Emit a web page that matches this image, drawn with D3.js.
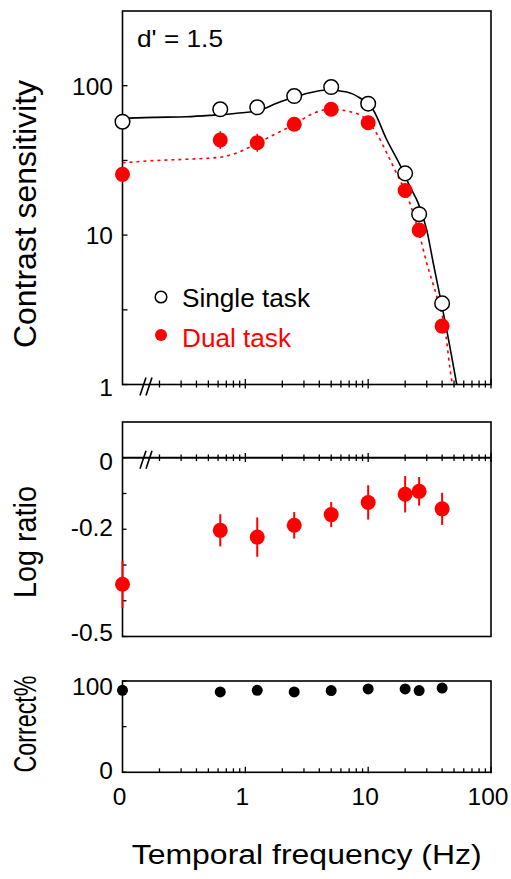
<!DOCTYPE html>
<html>
<head>
<meta charset="utf-8">
<script src="https://cdn.jsdelivr.net/npm/d3@7"></script>
<style>
  body { margin: 0; background: #fff; }
  svg { display: block; font-family: "Liberation Sans", Arial, Helvetica, sans-serif; }
</style>
</head>
<body>
<div id="chart"></div>
<script>
// temporal frequencies (Hz); 0 is drawn at the left edge of the log axis
const freqs = [0, 0.625, 1.25, 2.5, 5, 10, 20, 26, 40];

// contrast sensitivity
const singleCS = [57.4, 69.5, 71.7, 85.3, 98.0, 75.8, 25.9, 13.8, 3.49];
const dualCS = [25.5, 43.3, 41.5, 55.2, 69.5, 56.5, 19.9, 10.8, 2.46];
const dualErr = [0.05, 0.06, 0.06, 0.04, 0.04, 0.04, 0.05, 0.05, 0.05]; // log units

// fitted curves
const singleFitF = [0, 0.178, 0.333, 0.516, 0.851, 1.318, 1.8, 2.46, 3.36, 4.6, 6.7, 8.59, 11.0, 14.2, 18.2, 21.9, 25.6, 30.0, 33.9, 38.5, 43.6, 47.9, 52.6];
const singleFitCS = [60.5, 61.4, 62.0, 63.3, 65.4, 68.7, 76.2, 83.6, 89.8, 93.6, 90.7, 82.7, 68.7, 43.3, 29.4, 21.1, 16.3, 10.8, 6.48, 3.87, 2.32, 1.53, 1.0];
const dualFitF = [0, 0.178, 0.333, 0.622, 0.905, 1.24, 1.8, 2.46, 3.58, 4.89, 7.13, 9.73, 11.7, 14.2, 16.5, 21.9, 26.4, 30.0, 36.2, 42.3, 47.9, 48.8];
const dualFitCS = [30.5, 31.5, 32.2, 33.2, 36.2, 41.1, 48.0, 54.6, 65.4, 69.5, 67.0, 58.9, 48.0, 35.3, 27.3, 16.3, 9.76, 6.48, 3.87, 2.32, 1.07, 1.0];

// log ratio dual / single
const logRatio = [-0.354, -0.203, -0.222, -0.189, -0.159, -0.125, -0.102, -0.094, -0.143];
const ratioErr = [0.066, 0.045, 0.055, 0.037, 0.035, 0.048, 0.051, 0.04, 0.045];

// percent correct in the secondary task
const correctPct = [89.8, 88, 89.8, 88, 89.5, 91.3, 91.3, 89.5, 92.3];

const xLabels = [0, 1, 10, 100];
const csTicks = [1, 10, 100];
const csMinor = [3.16, 31.6];
const ratioTicks = [0, -0.2, -0.5];
const ratioMinor = [-0.1, -0.3, -0.4];
const pctTicks = [0, 100];
const pctMinor = [50];

const width = 511, height = 879;
const left = 122.5, right = 491;
const red = "#ff0000";
const sw = 1.6;

const svg = d3.select("#chart").append("svg")
    .attr("width", width)
    .attr("height", height);

const x = d3.scaleLog().domain([0.1, 100]).range([left, right]);
const fx = f => x(f === 0 ? 0.1 : f);
const xMinor = x.ticks().filter(t => t > 0.1);
const isMajor = t => Math.abs(Math.log10(t) - Math.round(Math.log10(t))) < 1e-6;

const yCS = d3.scaleLog().domain([1, Math.pow(10, 2.5)]).range([384.5, 11]);
const yR = d3.scaleLinear().domain([-0.5, 0.1]).range([636.5, 422]);
const yP = d3.scaleLinear().domain([0, 100]).range([772.3, 681]);

// helpers
const box = (y0, y1) => svg.append("rect")
    .attr("x", left).attr("y", y0)
    .attr("width", right - left).attr("height", y1 - y0)
    .attr("fill", "none").attr("stroke", "#000").attr("stroke-width", sw);

const xTicks = (yy, up, down) => svg.append("g").selectAll("line")
    .data(xMinor)
    .join("line")
    .attr("x1", d => x(d)).attr("x2", d => x(d))
    .attr("y1", d => yy - (isMajor(d) ? up + 1.5 : up))
    .attr("y2", d => yy + (isMajor(d) ? down + 1 : down))
    .attr("stroke", "#000").attr("stroke-width", 1.3);

const yTicks = (vals, scale, len) => svg.append("g").selectAll("line")
    .data(vals)
    .join("line")
    .attr("x1", left).attr("x2", left + len)
    .attr("y1", d => scale(d)).attr("y2", d => scale(d))
    .attr("stroke", "#000").attr("stroke-width", 1.3);

const yLabels = (vals, scale, fmt, shift) => svg.append("g").selectAll("text")
    .data(vals)
    .join("text")
    .attr("x", 113).attr("y", d => scale(d) + (shift ? shift(d) : 0))
    .attr("dy", "0.36em")
    .attr("text-anchor", "end")
    .attr("font-size", 24.5)
    .text(fmt);

const breakMark = (yy) => {
    [143, 149].forEach(bx => svg.append("line")
        .attr("x1", bx - 3).attr("y1", yy + 11)
        .attr("x2", bx + 3).attr("y2", yy - 7)
        .attr("stroke", "#000").attr("stroke-width", 1.6));
};

const yTitle = (txt, cy, len) => svg.append("text")
    .attr("transform", `translate(36,${cy}) rotate(-90)`)
    .attr("text-anchor", "middle")
    .attr("font-size", 32)
    .attr("textLength", len)
    .attr("lengthAdjust", "spacingAndGlyphs")
    .text(txt);

// ---------- top panel: contrast sensitivity ----------
svg.append("clipPath").attr("id", "clipTop")
    .append("rect").attr("x", left).attr("y", 11)
    .attr("width", right - left).attr("height", 384.5 - 11);

box(11, 384.5);
xTicks(384.5, 4, 3);
yTicks(csTicks.concat(csMinor), yCS, 5);
yLabels(csTicks, yCS, d => d, d => d === 1 ? 3 : 0);
breakMark(384.5);

const line = d3.line()
    .x(d => fx(d[0]))
    .y(d => yCS(d[1]))
    .curve(d3.curveMonotoneX);

svg.append("path")
    .datum(dualFitF.map((f, i) => [f, dualFitCS[i]]))
    .attr("clip-path", "url(#clipTop)")
    .attr("d", line)
    .attr("fill", "none")
    .attr("stroke", red)
    .attr("stroke-width", 1.6)
    .attr("stroke-dasharray", "3,4");

svg.append("path")
    .datum(singleFitF.map((f, i) => [f, singleFitCS[i]]))
    .attr("clip-path", "url(#clipTop)")
    .attr("d", line)
    .attr("fill", "none")
    .attr("stroke", "#000")
    .attr("stroke-width", 1.6);

// dual task error bars and dots
svg.append("g").selectAll("line")
    .data(freqs)
    .join("line")
    .attr("x1", d => fx(d)).attr("x2", d => fx(d))
    .attr("y1", (d, i) => yCS(dualCS[i] * Math.pow(10, dualErr[i])))
    .attr("y2", (d, i) => yCS(dualCS[i] / Math.pow(10, dualErr[i])))
    .attr("stroke", red).attr("stroke-width", 1.6);

svg.append("g").selectAll("circle")
    .data(freqs)
    .join("circle")
    .attr("cx", d => fx(d))
    .attr("cy", (d, i) => yCS(dualCS[i]))
    .attr("r", 7.5)
    .attr("fill", red);

svg.append("g").selectAll("circle")
    .data(freqs)
    .join("circle")
    .attr("cx", d => fx(d))
    .attr("cy", (d, i) => yCS(singleCS[i]))
    .attr("r", 7.3)
    .attr("fill", "#fff")
    .attr("stroke", "#000")
    .attr("stroke-width", 1.5);

svg.append("text")
    .attr("x", 137).attr("y", 47)
    .attr("font-size", 24)
    .attr("textLength", 86)
    .attr("lengthAdjust", "spacingAndGlyphs")
    .text("d' = 1.5");

// legend
svg.append("circle").attr("cx", 161).attr("cy", 297).attr("r", 5.8)
    .attr("fill", "#fff").attr("stroke", "#000").attr("stroke-width", 1.5);
svg.append("text").attr("x", 182).attr("y", 306.5).attr("font-size", 26)
    .attr("textLength", 128).attr("lengthAdjust", "spacingAndGlyphs")
    .text("Single task");
svg.append("circle").attr("cx", 161).attr("cy", 335).attr("r", 6)
    .attr("fill", red);
svg.append("text").attr("x", 182).attr("y", 346.5).attr("font-size", 26)
    .attr("fill", red)
    .attr("textLength", 109).attr("lengthAdjust", "spacingAndGlyphs")
    .text("Dual task");

yTitle("Contrast sensitivity", 214, 268);

// ---------- middle panel: log ratio ----------
box(422, 636.5);
svg.append("line")
    .attr("x1", left).attr("x2", right)
    .attr("y1", yR(0)).attr("y2", yR(0))
    .attr("stroke", "#000").attr("stroke-width", 1.8);
xTicks(yR(0), 3.3, 3.3);
breakMark(yR(0));
yTicks(ratioTicks.concat(ratioMinor), yR, 4);
yLabels(ratioTicks, yR, d => d === 0 ? "0" : String(d), d => d === 0 ? 3 : (d === -0.5 ? -4 : -2));

svg.append("g").selectAll("line")
    .data(freqs)
    .join("line")
    .attr("x1", d => fx(d)).attr("x2", d => fx(d))
    .attr("y1", (d, i) => yR(logRatio[i] + ratioErr[i]))
    .attr("y2", (d, i) => yR(logRatio[i] - ratioErr[i]))
    .attr("stroke", red).attr("stroke-width", 2);

svg.append("g").selectAll("circle")
    .data(freqs)
    .join("circle")
    .attr("cx", d => fx(d))
    .attr("cy", (d, i) => yR(logRatio[i]))
    .attr("r", 7.5)
    .attr("fill", red);

yTitle("Log ratio", 542, 112);

// ---------- bottom panel: percent correct ----------
box(681, 772.3);
xTicks(772.3, 4, 0);
yTicks(pctTicks.concat(pctMinor), yP, 4);
yLabels(pctTicks, yP, d => d, d => d === 100 ? 5 : -2);

svg.append("g").selectAll("circle")
    .data(freqs)
    .join("circle")
    .attr("cx", d => fx(d))
    .attr("cy", (d, i) => yP(correctPct[i]))
    .attr("r", 5.5)
    .attr("fill", "#000");

yTitle("Correct%", 724, 97);

// x labels and title
svg.append("g").selectAll("text")
    .data(xLabels)
    .join("text")
    .attr("x", d => fx(d) - 3)
    .attr("y", 805)
    .attr("text-anchor", "middle")
    .attr("font-size", 24.5)
    .text(d => d);

svg.append("text")
    .attr("x", 306.7).attr("y", 864)
    .attr("text-anchor", "middle")
    .attr("font-size", 27)
    .attr("textLength", 350)
    .attr("lengthAdjust", "spacingAndGlyphs")
    .text("Temporal frequency (Hz)");
</script>
</body>
</html>
